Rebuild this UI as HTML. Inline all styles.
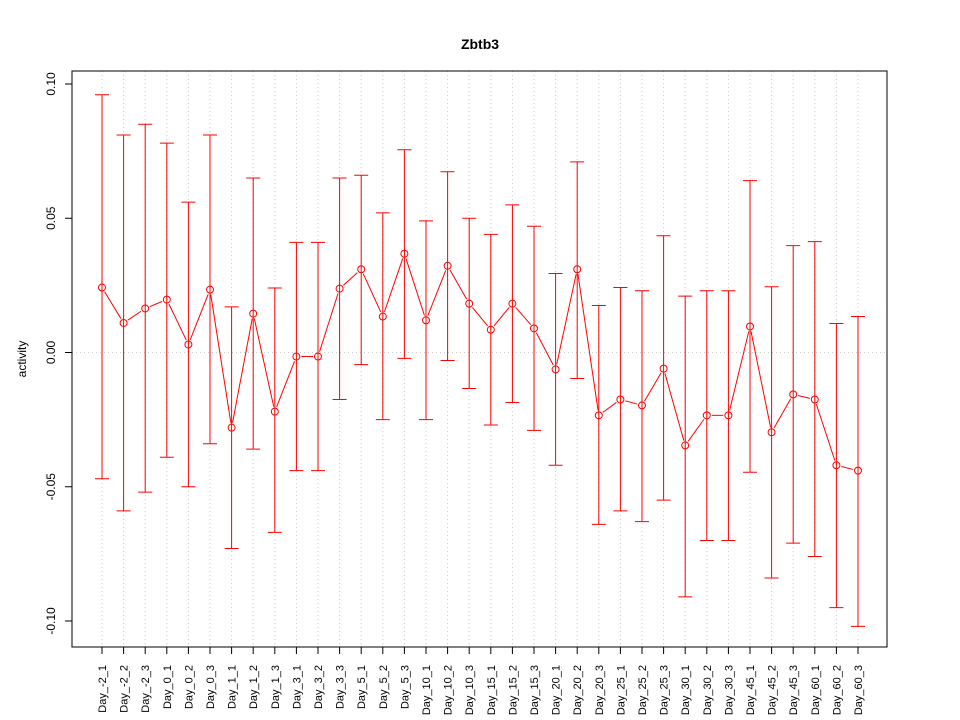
<!DOCTYPE html>
<html><head><meta charset="utf-8"><style>body{margin:0;background:#fff}svg{display:block}</style></head>
<body>
<svg id="chart" width="960" height="720" xmlns="http://www.w3.org/2000/svg" font-family="Liberation Sans, sans-serif">
<text x="480" y="49" text-anchor="middle" font-size="14" font-weight="bold">Zbtb3</text>
<text transform="translate(26,359) rotate(-90)" text-anchor="middle" font-size="12">activity</text>
<g id="grid"></g><g id="axes"></g><g id="bars"></g><g id="line"></g>
<rect x="72" y="71" width="815" height="576" fill="none" stroke="#000"/>
</svg>
<script>
const categories=["Day_-2_1","Day_-2_2","Day_-2_3","Day_0_1","Day_0_2","Day_0_3","Day_1_1","Day_1_2","Day_1_3","Day_3_1","Day_3_2","Day_3_3","Day_5_1","Day_5_2","Day_5_3","Day_10_1","Day_10_2","Day_10_3","Day_15_1","Day_15_2","Day_15_3","Day_20_1","Day_20_2","Day_20_3","Day_25_1","Day_25_2","Day_25_3","Day_30_1","Day_30_2","Day_30_3","Day_45_1","Day_45_2","Day_45_3","Day_60_1","Day_60_2","Day_60_3"];
const means=[0.0242,0.011,0.0164,0.0197,0.003,0.0234,-0.028,0.0145,-0.022,-0.0015,-0.0015,0.0238,0.031,0.0134,0.0368,0.012,0.0323,0.0182,0.0085,0.0182,0.009,-0.0063,0.031,-0.0234,-0.0175,-0.0197,-0.006,-0.0346,-0.0234,-0.0234,0.0097,-0.0297,-0.0156,-0.0175,-0.042,-0.044];
const uppers=[0.096,0.081,0.085,0.078,0.056,0.081,0.017,0.065,0.024,0.041,0.041,0.065,0.066,0.052,0.0755,0.049,0.0673,0.050,0.044,0.055,0.047,0.0294,0.071,0.0175,0.0242,0.023,0.0435,0.021,0.023,0.023,0.064,0.0245,0.0398,0.0413,0.0108,0.0134];
const lowers=[-0.047,-0.059,-0.052,-0.039,-0.050,-0.034,-0.073,-0.036,-0.067,-0.044,-0.044,-0.0175,-0.0045,-0.025,-0.0022,-0.025,-0.003,-0.0134,-0.027,-0.0186,-0.029,-0.042,-0.0097,-0.064,-0.059,-0.063,-0.055,-0.091,-0.070,-0.070,-0.0446,-0.084,-0.071,-0.076,-0.095,-0.102];
const yTicks=[-0.10,-0.05,0.00,0.05,0.10];
const yTickLabels=["-0.10","-0.05","0.00","0.05","0.10"];
const NS="http://www.w3.org/2000/svg";
function xS(i){return 102+i*(858-102)/(categories.length-1);}
function yS(v){return 352.5-v*2685;}
function mk(p,t,a){const e=document.createElementNS(NS,t);for(const k in a)e.setAttribute(k,a[k]);p.appendChild(e);return e;}
const grid=document.getElementById('grid'),axes=document.getElementById('axes'),bars=document.getElementById('bars'),line=document.getElementById('line');
categories.forEach((c,i)=>{
 const x=xS(i);
 const g=mk(grid,'line',{x1:x,x2:x,y1:71,y2:647,stroke:'#ccc','stroke-dasharray':'1,3'});
 
 
 const t=mk(axes,'line',{x1:x,x2:x,y1:647,y2:654,stroke:'#000'});
 
 
 const l=mk(axes,'text',{transform:`translate(${x+4},665) rotate(-90)`,'text-anchor':'end','font-size':'11'});
 l.textContent=c;
 
 
});
const h=mk(grid,'line',{x1:72,x2:887,y1:yS(0),y2:yS(0),stroke:'#ccc','stroke-dasharray':'1,3'});


const ya=mk(axes,'line',{x1:72,x2:72,y1:yS(0.10),y2:yS(-0.10),stroke:'#000'});


yTicks.forEach((v,i)=>{
 const y=yS(v);
 const t=mk(axes,'line',{x1:65,x2:72,y1:y,y2:y,stroke:'#000'});
 
 
 const l=mk(axes,'text',{transform:`translate(55,${y}) rotate(-90)`,'text-anchor':'middle','font-size':'12'});
 l.textContent=yTickLabels[i];
 
 
});
categories.forEach((c,i)=>{
 const x=xS(i),yu=yS(uppers[i]),yl=yS(lowers[i]);
 const b=mk(bars,'path',{d:`M${x},${yu}V${yl}M${x-7},${yu}H${x+7}M${x-7},${yl}H${x+7}`,stroke:'#f00',fill:'none'});
 
 
});
for(let i=0;i<means.length-1;i++){
 const x1=xS(i),y1=yS(means[i]),x2=xS(i+1),y2=yS(means[i+1]);
 const dx=x2-x1,dy=y2-y1,L=Math.hypot(dx,dy),g=5;
 if(L>2*g){
  const s=mk(line,'line',{x1:x1+dx*g/L,y1:y1+dy*g/L,x2:x2-dx*g/L,y2:y2-dy*g/L,stroke:'#f00'});
  
  
 }
}
means.forEach((v,i)=>{
 const p=mk(line,'circle',{cx:xS(i),cy:yS(v),r:3.5,fill:'none',stroke:'#f00'});
 
 
});
</script>
</body></html>
